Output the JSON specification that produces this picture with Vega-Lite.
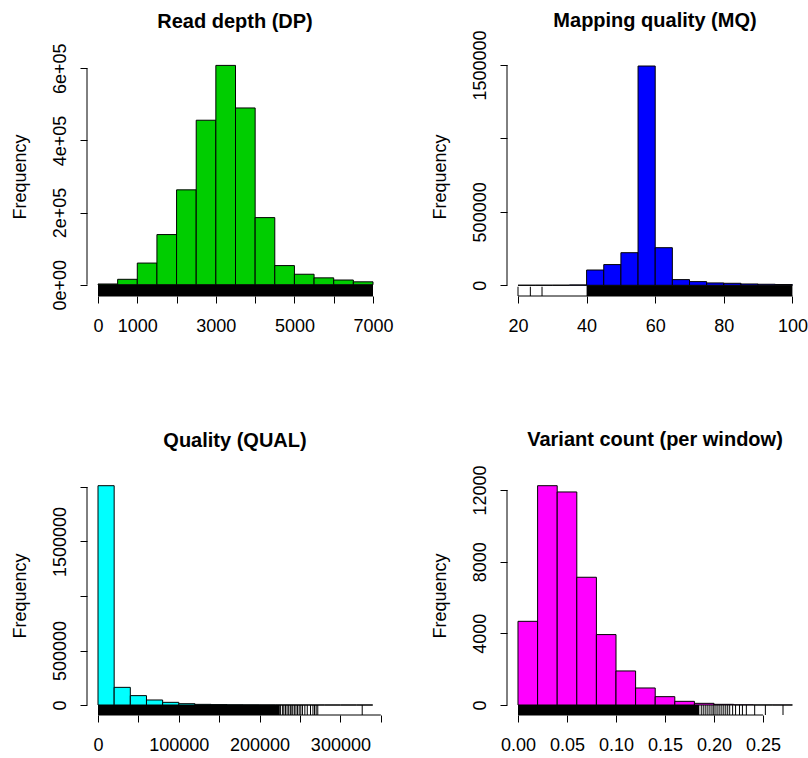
{
  "$schema": "https://vega.github.io/schema/vega-lite/v6.json",
  "padding": {"left": 11, "top": 11, "right": 0, "bottom": 0},
  "background": "white",
  "bounds": "flush",
  "columns": 2,
  "spacing": {"row": 180, "column": 124},
  "config": {
    "font": "Liberation Sans",
    "view": {"stroke": null},
    "title": {"font": "Liberation Sans", "fontSize": 20, "fontWeight": "bold", "color": "black", "anchor": "middle", "frame": "group", "baseline": "alphabetic"},
    "axis": {"labelFont": "Liberation Sans", "labelFontSize": 18, "labelColor": "black", "tickColor": "black", "tickSize": 7, "tickWidth": 1, "domain": false, "grid": false, "labelOverlap": false, "labelFlush": false, "titleFont": "Liberation Sans", "titleFontSize": 18, "titleFontWeight": "normal", "titleColor": "black"},
    "axisX": {"labelPadding": 28, "labelBaseline": "alphabetic", "labelAlign": "center"},
    "axisY": {"labelAngle": -90, "labelAlign": "center", "labelBaseline": "alphabetic", "labelPadding": 15, "titleX": -62, "titleBaseline": "alphabetic", "titleAngle": -90}
  },
  "datasets": {
    "bars": [
      {"panel": "DP", "start": 0, "end": 500, "count": 2000},
      {"panel": "DP", "start": 500, "end": 1000, "count": 15000},
      {"panel": "DP", "start": 1000, "end": 1500, "count": 60000},
      {"panel": "DP", "start": 1500, "end": 2000, "count": 139000},
      {"panel": "DP", "start": 2000, "end": 2500, "count": 263000},
      {"panel": "DP", "start": 2500, "end": 3000, "count": 456000},
      {"panel": "DP", "start": 3000, "end": 3500, "count": 608000},
      {"panel": "DP", "start": 3500, "end": 4000, "count": 490000},
      {"panel": "DP", "start": 4000, "end": 4500, "count": 186000},
      {"panel": "DP", "start": 4500, "end": 5000, "count": 53000},
      {"panel": "DP", "start": 5000, "end": 5500, "count": 29000},
      {"panel": "DP", "start": 5500, "end": 6000, "count": 19000},
      {"panel": "DP", "start": 6000, "end": 6500, "count": 13000},
      {"panel": "DP", "start": 6500, "end": 7000, "count": 8000},
      {"panel": "MQ", "start": 20, "end": 25, "count": 300},
      {"panel": "MQ", "start": 25, "end": 30, "count": 600},
      {"panel": "MQ", "start": 30, "end": 35, "count": 800},
      {"panel": "MQ", "start": 35, "end": 40, "count": 2500},
      {"panel": "MQ", "start": 40, "end": 45, "count": 104000},
      {"panel": "MQ", "start": 45, "end": 50, "count": 141000},
      {"panel": "MQ", "start": 50, "end": 55, "count": 222000},
      {"panel": "MQ", "start": 55, "end": 60, "count": 1493000},
      {"panel": "MQ", "start": 60, "end": 65, "count": 256000},
      {"panel": "MQ", "start": 65, "end": 70, "count": 38600},
      {"panel": "MQ", "start": 70, "end": 75, "count": 25000},
      {"panel": "MQ", "start": 75, "end": 80, "count": 16000},
      {"panel": "MQ", "start": 80, "end": 85, "count": 13600},
      {"panel": "MQ", "start": 85, "end": 90, "count": 9000},
      {"panel": "MQ", "start": 90, "end": 95, "count": 7000},
      {"panel": "MQ", "start": 95, "end": 100, "count": 5000},
      {"panel": "QUAL", "start": 0, "end": 20000, "count": 2012000},
      {"panel": "QUAL", "start": 20000, "end": 40000, "count": 162000},
      {"panel": "QUAL", "start": 40000, "end": 60000, "count": 86000},
      {"panel": "QUAL", "start": 60000, "end": 80000, "count": 46000},
      {"panel": "QUAL", "start": 80000, "end": 100000, "count": 24500},
      {"panel": "QUAL", "start": 100000, "end": 120000, "count": 12000},
      {"panel": "QUAL", "start": 120000, "end": 140000, "count": 6000},
      {"panel": "QUAL", "start": 140000, "end": 160000, "count": 3500},
      {"panel": "QUAL", "start": 160000, "end": 180000, "count": 2000},
      {"panel": "QUAL", "start": 180000, "end": 200000, "count": 1200},
      {"panel": "QUAL", "start": 200000, "end": 220000, "count": 700},
      {"panel": "QUAL", "start": 220000, "end": 240000, "count": 400},
      {"panel": "QUAL", "start": 240000, "end": 260000, "count": 200},
      {"panel": "QUAL", "start": 260000, "end": 280000, "count": 80},
      {"panel": "QUAL", "start": 280000, "end": 300000, "count": 30},
      {"panel": "QUAL", "start": 300000, "end": 320000, "count": 10},
      {"panel": "QUAL", "start": 320000, "end": 340000, "count": 5},
      {"panel": "VAR", "start": 0, "end": 0.02, "count": 4670},
      {"panel": "VAR", "start": 0.02, "end": 0.04, "count": 12240},
      {"panel": "VAR", "start": 0.04, "end": 0.06, "count": 11890},
      {"panel": "VAR", "start": 0.06, "end": 0.08, "count": 7130},
      {"panel": "VAR", "start": 0.08, "end": 0.1, "count": 3930},
      {"panel": "VAR", "start": 0.1, "end": 0.12, "count": 1900},
      {"panel": "VAR", "start": 0.12, "end": 0.14, "count": 950},
      {"panel": "VAR", "start": 0.14, "end": 0.16, "count": 465},
      {"panel": "VAR", "start": 0.16, "end": 0.18, "count": 205},
      {"panel": "VAR", "start": 0.18, "end": 0.2, "count": 93},
      {"panel": "VAR", "start": 0.2, "end": 0.22, "count": 37},
      {"panel": "VAR", "start": 0.22, "end": 0.24, "count": 12},
      {"panel": "VAR", "start": 0.24, "end": 0.26, "count": 4},
      {"panel": "VAR", "start": 0.26, "end": 0.28, "count": 2}
    ],
    "rugband": [
      {"panel": "DP", "start": 0, "end": 7000},
      {"panel": "MQ", "start": 40, "end": 100},
      {"panel": "QUAL", "start": 0, "end": 225000},
      {"panel": "VAR", "start": 0, "end": 0.185}
    ],
    "rugtick": [
      {"panel": "MQ", "x": 20},
      {"panel": "MQ", "x": 23.6},
      {"panel": "MQ", "x": 27},
      {"panel": "QUAL", "x": 226000},
      {"panel": "QUAL", "x": 228500},
      {"panel": "QUAL", "x": 230000},
      {"panel": "QUAL", "x": 232000},
      {"panel": "QUAL", "x": 234000},
      {"panel": "QUAL", "x": 236000},
      {"panel": "QUAL", "x": 238000},
      {"panel": "QUAL", "x": 239000},
      {"panel": "QUAL", "x": 241000},
      {"panel": "QUAL", "x": 243000},
      {"panel": "QUAL", "x": 245000},
      {"panel": "QUAL", "x": 247000},
      {"panel": "QUAL", "x": 249000},
      {"panel": "QUAL", "x": 251000},
      {"panel": "QUAL", "x": 253000},
      {"panel": "QUAL", "x": 256000},
      {"panel": "QUAL", "x": 259000},
      {"panel": "QUAL", "x": 263000},
      {"panel": "QUAL", "x": 266000},
      {"panel": "QUAL", "x": 268000},
      {"panel": "QUAL", "x": 270000},
      {"panel": "QUAL", "x": 272000},
      {"panel": "QUAL", "x": 327000},
      {"panel": "VAR", "x": 0.187},
      {"panel": "VAR", "x": 0.189},
      {"panel": "VAR", "x": 0.191},
      {"panel": "VAR", "x": 0.193},
      {"panel": "VAR", "x": 0.195},
      {"panel": "VAR", "x": 0.197},
      {"panel": "VAR", "x": 0.199},
      {"panel": "VAR", "x": 0.2},
      {"panel": "VAR", "x": 0.202},
      {"panel": "VAR", "x": 0.204},
      {"panel": "VAR", "x": 0.206},
      {"panel": "VAR", "x": 0.208},
      {"panel": "VAR", "x": 0.21},
      {"panel": "VAR", "x": 0.212},
      {"panel": "VAR", "x": 0.214},
      {"panel": "VAR", "x": 0.216},
      {"panel": "VAR", "x": 0.219},
      {"panel": "VAR", "x": 0.222},
      {"panel": "VAR", "x": 0.226},
      {"panel": "VAR", "x": 0.229},
      {"panel": "VAR", "x": 0.233},
      {"panel": "VAR", "x": 0.2415},
      {"panel": "VAR", "x": 0.2524},
      {"panel": "VAR", "x": 0.2704}
    ]
  },
  "concat": [
    {
      "width": 296, "height": 239,
      "title": {"text": "Read depth (DP)", "offset": 11.5},
      "layer": [
        {
          "data": {"name": "bars"},
          "transform": [{"filter": "datum.panel == 'DP'"}],
          "mark": {"type": "rect", "fill": "#00CD00", "stroke": "black", "strokeWidth": 1},
          "encoding": {
            "x": {"field": "start", "type": "quantitative", "scale": {"domain": [-280, 7254.5], "nice": false, "zero": false},
                  "axis": {"title": null, "values": [0, 1000, 2000, 3000, 4000, 5000, 6000, 7000], "format": "d",
                           "labelExpr": "indexof([0, 1000, 3000, 5000, 7000], datum.value) >= 0 ? datum.label : ''"}},
            "x2": {"field": "end"},
            "y": {"field": "count", "type": "quantitative", "scale": {"domain": [-31300, 631300], "nice": false, "zero": false},
                  "axis": {"title": "Frequency", "values": [0, 100000, 200000, 300000, 400000, 500000, 600000],
                           "labelExpr": "datum.value == 0 ? '0e+00' : datum.value == 200000 ? '2e+05' : datum.value == 400000 ? '4e+05' : datum.value == 600000 ? '6e+05' : ''"}},
            "y2": {"datum": 0}
          }
        },
        {
          "data": {"name": "rugband"},
          "transform": [{"filter": "datum.panel == 'DP'"}],
          "mark": {"type": "rect", "fill": "black"},
          "encoding": {"x": {"field": "start", "type": "quantitative"}, "x2": {"field": "end"}, "y": {"datum": -31300}, "y2": {"datum": 0}}
        },
        {
          "data": {"values": [{}]},
          "mark": {"type": "rule", "color": "black", "strokeWidth": 1},
          "encoding": {"x": {"datum": -280}, "y": {"datum": 0}, "y2": {"datum": 600000}}
        },
        {
          "data": {"values": [{}]},
          "mark": {"type": "rule", "color": "black", "strokeWidth": 1},
          "encoding": {"x": {"datum": 0}, "x2": {"datum": 7000}, "y": {"datum": -31300}}
        }
      ]
    },
    {
      "width": 296, "height": 239,
      "title": {"text": "Mapping quality (MQ)", "offset": -1.5},
      "layer": [
        {
          "data": {"name": "bars"},
          "transform": [{"filter": "datum.panel == 'MQ'"}],
          "mark": {"type": "rect", "fill": "#0000FF", "stroke": "black", "strokeWidth": 1},
          "encoding": {
            "x": {"field": "start", "type": "quantitative", "scale": {"domain": [16.79, 103.09], "nice": false, "zero": false},
                  "axis": {"title": null, "values": [20, 40, 60, 80, 100], "format": "d"}},
            "x2": {"field": "end"},
            "y": {"field": "count", "type": "quantitative", "scale": {"domain": [-72900, 1554400], "nice": false, "zero": false},
                  "axis": {"title": "Frequency", "values": [0, 500000, 1000000, 1500000], "format": "d",
                           "labelExpr": "datum.value == 1000000 ? '' : datum.label"}},
            "y2": {"datum": 0}
          }
        },
        {
          "data": {"name": "rugband"},
          "transform": [{"filter": "datum.panel == 'MQ'"}],
          "mark": {"type": "rect", "fill": "black"},
          "encoding": {"x": {"field": "start", "type": "quantitative"}, "x2": {"field": "end"}, "y": {"datum": -72900}, "y2": {"datum": 0}}
        },
        {
          "data": {"name": "rugtick"},
          "transform": [{"filter": "datum.panel == 'MQ'"}],
          "mark": {"type": "rule", "color": "black", "strokeWidth": 1},
          "encoding": {"x": {"field": "x", "type": "quantitative"}, "y": {"datum": -72900}, "y2": {"datum": -10000}}
        },
        {
          "data": {"values": [{}]},
          "mark": {"type": "rule", "color": "black", "strokeWidth": 1},
          "encoding": {"x": {"datum": 16.79}, "y": {"datum": 0}, "y2": {"datum": 1500000}}
        },
        {
          "data": {"values": [{}]},
          "mark": {"type": "rule", "color": "black", "strokeWidth": 1},
          "encoding": {"x": {"datum": 20}, "x2": {"datum": 100}, "y": {"datum": -72900}}
        }
      ]
    },
    {
      "width": 296, "height": 239,
      "title": {"text": "Quality (QUAL)", "offset": 25.5},
      "layer": [
        {
          "data": {"name": "bars"},
          "transform": [{"filter": "datum.panel == 'QUAL'"}],
          "mark": {"type": "rect", "fill": "#00FFFF", "stroke": "black", "strokeWidth": 1},
          "encoding": {
            "x": {"field": "start", "type": "quantitative", "scale": {"domain": [-13614, 352723], "nice": false, "zero": false},
                  "axis": {"title": null, "values": [0, 50000, 100000, 150000, 200000, 250000, 300000, 350000], "format": "d",
                           "labelExpr": "indexof([0, 100000, 200000, 300000], datum.value) >= 0 ? datum.label : ''"}},
            "x2": {"field": "end"},
            "y": {"field": "count", "type": "quantitative", "scale": {"domain": [-91700, 2100900], "nice": false, "zero": false},
                  "axis": {"title": "Frequency", "values": [0, 500000, 1000000, 1500000, 2000000], "format": "d",
                           "labelExpr": "indexof([0, 500000, 1500000], datum.value) >= 0 ? datum.label : ''"}},
            "y2": {"datum": 0}
          }
        },
        {
          "data": {"name": "rugband"},
          "transform": [{"filter": "datum.panel == 'QUAL'"}],
          "mark": {"type": "rect", "fill": "black"},
          "encoding": {"x": {"field": "start", "type": "quantitative"}, "x2": {"field": "end"}, "y": {"datum": -91700}, "y2": {"datum": 0}}
        },
        {
          "data": {"name": "rugtick"},
          "transform": [{"filter": "datum.panel == 'QUAL'"}],
          "mark": {"type": "rule", "color": "black", "strokeWidth": 1},
          "encoding": {"x": {"field": "x", "type": "quantitative"}, "y": {"datum": -91700}, "y2": {"datum": 0}}
        },
        {
          "data": {"values": [{}]},
          "mark": {"type": "rule", "color": "black", "strokeWidth": 1},
          "encoding": {"x": {"datum": -13614}, "y": {"datum": 0}, "y2": {"datum": 2000000}}
        },
        {
          "data": {"values": [{}]},
          "mark": {"type": "rule", "color": "black", "strokeWidth": 1},
          "encoding": {"x": {"datum": 0}, "x2": {"datum": 350000}, "y": {"datum": -91700}}
        }
      ]
    },
    {
      "width": 296, "height": 239,
      "title": {"text": "Variant count (per window)", "offset": 14.5},
      "layer": [
        {
          "data": {"name": "bars"},
          "transform": [{"filter": "datum.panel == 'VAR'"}],
          "mark": {"type": "rect", "fill": "#FF00FF", "stroke": "black", "strokeWidth": 1},
          "encoding": {
            "x": {"field": "start", "type": "quantitative", "scale": {"domain": [-0.01122, 0.2908], "nice": false, "zero": false},
                  "axis": {"title": null, "values": [0, 0.05, 0.1, 0.15, 0.2, 0.25], "format": ".2f"}},
            "x2": {"field": "end"},
            "y": {"field": "count", "type": "quantitative", "scale": {"domain": [-558, 12781], "nice": false, "zero": false},
                  "axis": {"title": "Frequency", "values": [0, 2000, 4000, 6000, 8000, 10000, 12000], "format": "d",
                           "labelExpr": "indexof([0, 4000, 8000, 12000], datum.value) >= 0 ? datum.label : ''"}},
            "y2": {"datum": 0}
          }
        },
        {
          "data": {"name": "rugband"},
          "transform": [{"filter": "datum.panel == 'VAR'"}],
          "mark": {"type": "rect", "fill": "black"},
          "encoding": {"x": {"field": "start", "type": "quantitative"}, "x2": {"field": "end"}, "y": {"datum": -558}, "y2": {"datum": 0}}
        },
        {
          "data": {"name": "rugtick"},
          "transform": [{"filter": "datum.panel == 'VAR'"}],
          "mark": {"type": "rule", "color": "black", "strokeWidth": 1},
          "encoding": {"x": {"field": "x", "type": "quantitative"}, "y": {"datum": -558}, "y2": {"datum": 0}}
        },
        {
          "data": {"values": [{}]},
          "mark": {"type": "rule", "color": "black", "strokeWidth": 1},
          "encoding": {"x": {"datum": -0.01122}, "y": {"datum": 0}, "y2": {"datum": 12000}}
        },
        {
          "data": {"values": [{}]},
          "mark": {"type": "rule", "color": "black", "strokeWidth": 1},
          "encoding": {"x": {"datum": 0}, "x2": {"datum": 0.25}, "y": {"datum": -558}}
        }
      ]
    }
  ]
}
